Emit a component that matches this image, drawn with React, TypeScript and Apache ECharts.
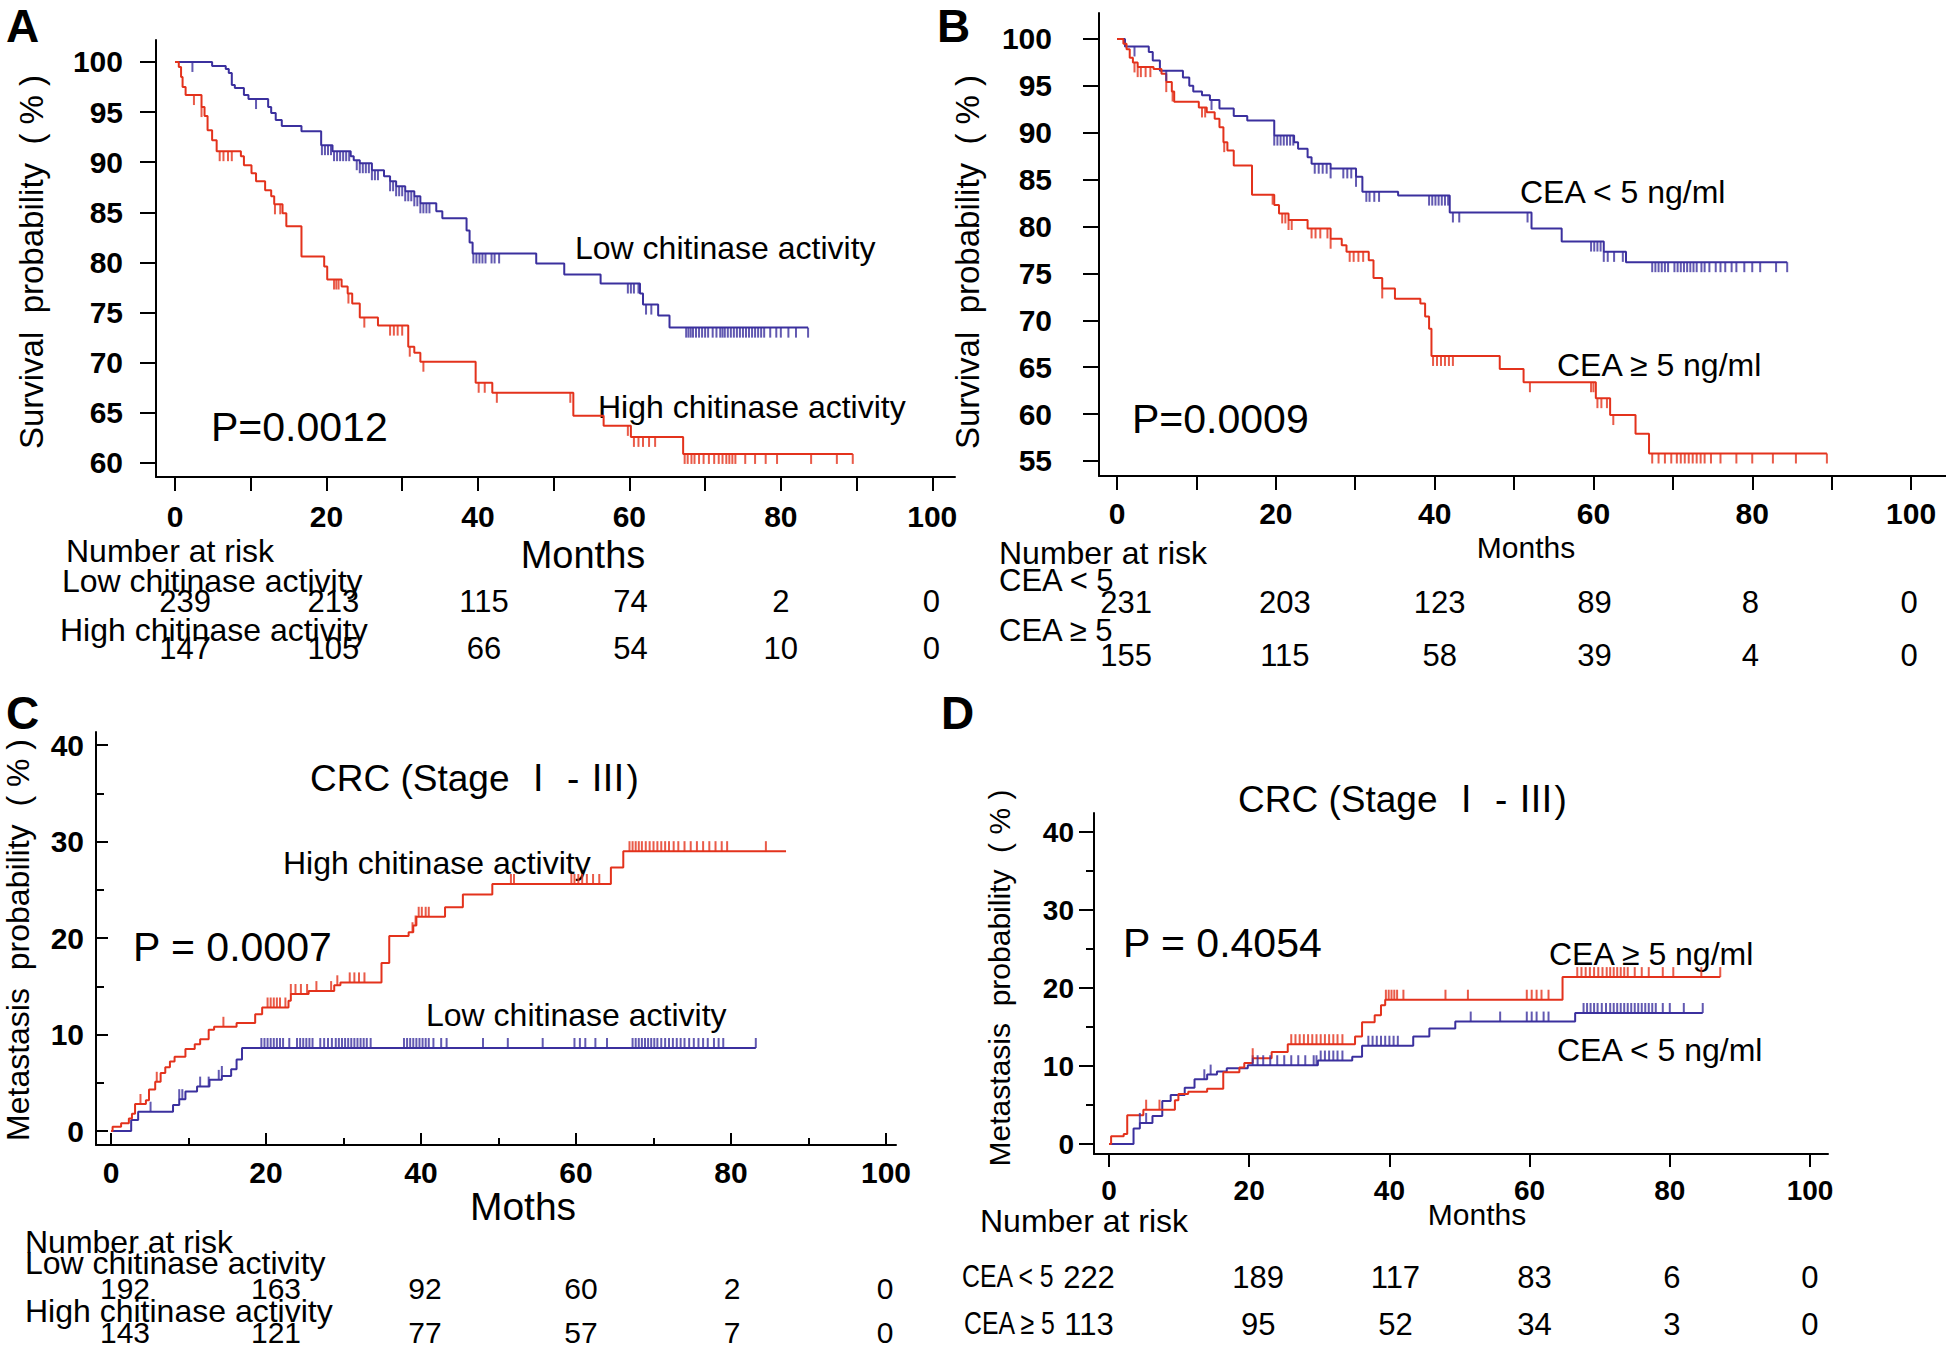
import React, { useEffect, useRef } from "react";
import * as echarts from "echarts";

// ---------------- DATA ----------------
// Panel A: overall survival by chitinase activity  [month, survival %]
const aLowCurve: number[][] = [[0,100],[4.9,99.6],[6.7,99.3],[7.1,98.9],[7.5,97.7],[7.9,97.4],[9.1,96.7],[9.7,96.3],[12.3,95.5],[12.7,94.9],[13.3,94.2],[14.1,93.6],[16.7,93.1],[19.3,91.7],[20.8,91.1],[23.2,90.6],[23.6,90.2],[24.4,89.9],[26.0,89.2],[27.6,88.6],[28.4,88.1],[29.2,87.6],[30.4,87.1],[31.6,86.6],[32.4,85.9],[34.5,85.1],[35.3,84.4],[38.5,83.2],[38.9,82.0],[39.3,80.9],[47.7,79.9],[51.4,78.8],[56.2,77.9],[61.4,76.9],[61.8,75.8],[63.8,74.7],[65.3,73.5],[83.6,73.5]];
const aLowCensor: number[] = [2.3,10.7,19.4,19.8,20.2,20.6,21.0,21.4,21.8,22.2,22.6,23.0,24.0,24.4,24.8,25.2,25.6,26.0,26.4,26.8,28.4,28.8,29.2,29.6,30.0,30.4,30.8,31.2,31.6,32.0,32.4,32.8,33.2,33.6,39.4,39.8,40.2,40.6,41.0,41.8,42.2,42.8,59.8,60.2,60.6,61.2,62.2,62.9,67.5,67.8,68.1,68.4,68.8,69.2,69.6,70.0,70.4,71.0,71.5,72.0,72.3,72.6,73.0,73.4,73.8,74.2,74.6,75.0,75.4,75.8,76.2,76.6,77.0,77.4,77.8,78.6,79.4,80.0,81.0,82.0,83.6];
const aHighCurve: number[][] = [[0,100],[0.5,99.5],[0.8,98.5],[1.0,97.5],[1.4,96.7],[3.5,95.5],[3.9,94.6],[4.3,93.2],[4.9,92.2],[5.5,91.1],[8.7,90.6],[9.1,89.7],[10.1,88.9],[10.7,88.1],[11.9,87.2],[12.7,86.6],[13.1,85.8],[14.2,84.9],[14.7,83.6],[16.7,80.6],[19.7,79.6],[20.1,78.3],[22.0,77.6],[22.8,76.9],[23.4,75.9],[24.4,74.5],[26.8,73.7],[30.8,71.6],[31.6,71.0],[32.4,70.1],[39.7,68.0],[41.9,67.0],[52.6,64.7],[56.6,63.7],[60.2,62.6],[67.1,60.9],[89.5,60.9]];
const aHighCensor: number[] = [2.5,3.5,5.9,6.4,7.0,7.5,13.2,13.9,21.0,21.3,21.6,22.9,25.0,28.4,28.9,29.4,30.0,31.0,32.8,40.1,40.9,42.5,52.2,59.8,60.6,61.2,61.8,62.6,63.4,67.3,67.7,68.2,68.6,69.2,69.8,70.5,71.2,71.8,72.3,72.8,73.2,73.6,74.0,75.3,76.6,78.0,79.5,84.0,87.4,89.5];
const aRiskLow = [239, 213, 115, 74, 2, 0];
const aRiskHigh = [147, 105, 66, 54, 10, 0];

// Panel B: overall survival by CEA
const bLowCurve: number[][] = [[0,100],[1.0,99.2],[4.0,98.6],[4.5,97.7],[5.4,96.6],[8.3,95.9],[9.1,95.0],[9.6,94.4],[10.7,94.0],[11.7,93.5],[12.9,92.6],[14.7,91.8],[16.4,91.3],[19.8,89.7],[22.3,89.0],[22.8,88.3],[24.0,87.4],[24.5,86.7],[26.9,86.2],[30.1,85.3],[30.9,83.7],[35.4,83.3],[41.9,81.5],[52.2,79.8],[56.0,78.4],[61.3,77.3],[64.1,76.2],[84.4,76.2]];
const bLowCensor: number[] = [2.2,6.2,11.9,19.8,20.2,20.6,21.0,21.4,21.8,22.2,24.9,25.4,25.9,26.4,26.9,28.5,29.0,29.5,30.1,31.4,31.8,32.4,33.0,39.3,39.7,40.1,40.5,40.9,41.3,41.7,42.3,43.1,51.7,59.7,60.1,60.5,60.9,61.3,61.8,62.6,63.7,67.4,67.8,68.2,68.6,69.0,69.4,70.2,70.6,71.0,71.4,71.8,72.2,72.6,73.0,73.6,74.0,74.6,75.4,76.0,76.6,77.4,78.0,79.0,80.0,81.0,83.0,84.4];
const bHighCurve: number[][] = [[0,100],[0.8,99.5],[1.2,98.9],[1.6,98.0],[2.0,97.5],[2.6,97.0],[4.6,96.8],[5.6,96.3],[6.2,95.4],[6.9,94.4],[7.2,93.3],[10.3,92.7],[11.3,92.2],[12.3,91.5],[12.9,90.6],[13.4,89.0],[13.9,88.1],[14.7,86.5],[17.0,83.4],[19.8,82.3],[20.4,81.4],[21.6,80.7],[24.0,79.8],[26.9,78.7],[28.3,78.0],[28.9,77.3],[31.7,76.4],[32.3,74.5],[33.4,73.4],[35.0,72.3],[38.2,71.8],[38.8,70.4],[39.3,69.1],[39.6,66.2],[48.2,64.8],[51.2,63.4],[60.3,61.7],[62.1,59.9],[65.3,57.9],[67.0,55.8],[89.4,55.8]];
const bHighCensor: number[] = [2.2,2.6,3.0,3.6,4.2,6.2,7.0,10.7,11.1,13.5,19.6,20.8,21.2,21.6,22.0,24.5,25.0,25.6,26.5,26.9,29.3,29.8,30.4,31.0,33.4,39.8,40.3,40.8,41.3,41.8,42.3,52.0,59.7,60.0,60.5,61.0,61.7,62.5,67.4,68.2,69.0,69.8,70.5,71.0,71.5,72.0,72.5,73.0,73.5,74.0,74.8,76.0,78.0,80.0,82.6,85.5,89.4];
const bRiskLow = [231, 203, 123, 89, 8, 0];
const bRiskHigh = [155, 115, 58, 39, 4, 0];

// Panel C: metastasis by chitinase activity  [month, metastasis %]
const cHighCurve: number[][] = [[0,0],[0.2,0.45],[1.3,0.8],[2.3,1.3],[2.7,1.8],[3.1,2.8],[4.5,3.2],[4.9,4.3],[5.7,5.1],[6.4,6.0],[7.0,6.6],[7.6,7.2],[8.2,7.7],[9.6,8.5],[10.8,9.0],[11.5,9.5],[12.6,10.5],[13.3,10.8],[16.2,11.2],[18.6,12.1],[19.5,12.8],[22.9,13.5],[23.2,14.2],[25.5,14.5],[28.8,15.1],[29.6,15.4],[34.9,17.4],[35.9,20.2],[38.4,20.6],[39.0,21.3],[39.4,22.2],[43.1,23.2],[45.4,24.5],[49.2,25.6],[64.5,27.3],[66.1,29.0],[87.1,29.0]];
const cHighCensor: number[] = [3.8,5.9,14.5,20.2,20.6,21.0,21.4,21.8,22.5,23.2,23.8,24.5,25.3,26.5,28.4,29.2,30.8,31.4,32.0,32.7,38.9,39.3,39.7,40.1,40.6,41.0,51.6,52.0,59.4,59.8,60.3,60.8,61.4,62.2,63.0,66.9,67.3,67.7,68.1,68.5,69.0,69.5,70.0,70.5,71.0,71.5,72.0,72.6,73.2,74.0,74.8,75.6,76.4,77.2,78.0,78.8,79.5,84.5];
const cLowCurve: number[][] = [[0,0],[2.6,1.15],[3.5,2.0],[8.0,2.7],[8.8,3.3],[9.6,4.1],[11.1,4.6],[12.7,5.3],[14.3,5.7],[15.5,6.4],[16.2,7.4],[16.9,8.6],[83.2,8.6]];
const cLowCensor: number[] = [5.1,8.8,9.2,11.5,12.6,13.9,14.3,19.4,19.8,20.2,20.6,21.0,21.4,21.8,22.2,23.0,24.0,24.4,24.8,25.2,25.6,26.0,27.0,27.5,28.0,28.5,29.0,29.4,29.8,30.2,30.6,31.0,31.4,31.8,32.2,32.6,33.0,33.5,37.8,38.2,38.6,39.0,39.4,39.8,40.2,40.6,41.0,41.6,42.6,43.3,48.0,51.2,55.7,59.8,60.5,61.2,62.5,64.0,67.3,67.7,68.1,68.5,68.9,69.3,69.7,70.1,70.5,71.0,71.5,72.0,72.5,73.0,73.5,74.0,74.6,75.2,75.8,76.4,77.0,77.8,78.4,79.0,83.2];
const cRiskLow = [192, 163, 92, 60, 2, 0];
const cRiskHigh = [143, 121, 77, 57, 7, 0];

// Panel D: metastasis by CEA
const dHighCurve: number[][] = [[0,0],[0.3,1.0],[2.1,1.3],[2.6,3.7],[4.9,4.4],[9.4,5.6],[9.9,6.4],[11.3,6.7],[14.0,7.1],[16.3,9.2],[18.6,9.8],[19.3,10.4],[20.5,11.0],[23.2,11.8],[25.5,12.8],[35.1,13.8],[36.1,15.6],[37.9,16.5],[38.8,17.8],[39.4,18.5],[64.7,21.4],[87.2,21.4]];
const dHighCensor: number[] = [5.3,7.2,20.5,26.0,26.6,27.2,27.8,28.4,29.0,29.6,30.2,30.8,31.4,32.0,32.6,33.3,39.5,39.9,40.3,40.7,41.1,42.0,48.0,51.2,59.6,60.3,61.0,61.7,62.7,66.8,67.4,68.0,68.6,69.2,69.8,70.4,71.0,71.5,72.0,72.5,73.0,73.5,74.0,75.0,76.0,77.0,79.0,80.5,84.5,87.2];
const dLowCurve: number[][] = [[0,0],[3.5,2.0],[4.4,2.7],[6.2,3.6],[7.6,5.5],[8.8,6.3],[10.8,7.2],[12.2,8.3],[14.0,8.9],[15.4,9.3],[16.8,9.7],[19.8,10.1],[29.8,10.7],[34.7,11.2],[36.1,12.6],[43.4,13.8],[45.7,14.8],[49.4,15.7],[66.5,16.8],[84.7,16.8]];
const dLowCensor: number[] = [4.4,5.3,13.6,14.5,20.5,21.2,22.0,23.0,24.0,25.0,26.0,27.0,28.0,29.2,29.6,30.2,30.8,31.4,32.0,32.6,33.3,37.0,37.6,38.2,38.8,39.4,40.0,40.6,41.2,51.6,55.8,59.6,60.3,61.0,62.0,62.7,67.7,68.2,68.7,69.2,69.7,70.3,70.9,71.5,72.0,72.5,73.0,73.5,74.0,74.5,75.0,75.5,76.0,76.5,77.0,77.5,78.0,79.0,80.0,82.0,84.7];
const dRiskLow = [222, 189, 117, 83, 6, 0];
const dRiskHigh = [113, 95, 52, 34, 3, 0];

// tick values
const monthLabels = [0, 20, 40, 60, 80, 100];
const monthTicks10 = [0, 10, 20, 30, 40, 50, 60, 70, 80, 90, 100];
const monthMinor = [10, 30, 50, 70, 90];
const survTicksA = [60, 65, 70, 75, 80, 85, 90, 95, 100];
const survTicksB = [55, 60, 65, 70, 75, 80, 85, 90, 95, 100];
const metaLabels = [0, 10, 20, 30, 40];
const metaMinor = [5, 15, 25, 35];

// ---------------- STYLE / LAYOUT ----------------
const BLUE = "#3b309e";
const RED = "#e3321c";
const FF = "'Liberation Sans', Arial, Helvetica, sans-serif";
const TFF = "'Liberation Sans', 'Noto Sans CJK SC', 'DejaVu Serif', sans-serif";

function stepAt(curve: number[][], t: number): number {
  let v = curve[0][1];
  for (const [ct, cv] of curve) {
    if (ct <= t) v = cv;
    else break;
  }
  return v;
}

interface Panel {
  grid: number[];
  x: number[];
  y: number[];
  xTicks: number[];
  xMinor?: number[];
  xInside: boolean;
  xTickLen: number;
  xMinorLen?: number;
  xMargin: number;
  yTicks: number[];
  yLabels: number[];
  yMinor?: number[];
  yInside: boolean;
  yTickLen: number;
  yMinorLen?: number;
  yMargin: number;
  tickFont: number;
  riskFont: number;
  riskShift: number[]; // horizontal nudge (px) of each risk column
  risk: { vals: number[]; offset: number }[];
  curves: { curve: number[][]; censor: number[]; color: string }[];
  censorUp: boolean;
}

const PANELS: Panel[] = [
  {
    grid: [156, 40, 799, 437], x: [-2.51, 103.0], y: [58.6, 102.19],
    xTicks: monthTicks10, xInside: false, xTickLen: 14, xMargin: 39,
    yTicks: survTicksA, yLabels: survTicksA, yInside: false, yTickLen: 16, yMargin: 33,
    tickFont: 30, riskFont: 31, riskShift: [10, 7, 6, 1, 0, -1],
    risk: [{ vals: aRiskLow, offset: 124 }, { vals: aRiskHigh, offset: 171 }],
    curves: [
      { curve: aLowCurve, censor: aLowCensor, color: BLUE },
      { curve: aHighCurve, censor: aHighCensor, color: RED },
    ],
    censorUp: false,
  },
  {
    grid: [1099, 13, 847, 463], x: [-2.27, 104.4], y: [53.4, 102.77],
    xTicks: monthTicks10, xInside: false, xTickLen: 14, xMargin: 37,
    yTicks: survTicksB, yLabels: survTicksB, yInside: false, yTickLen: 16, yMargin: 47,
    tickFont: 30, riskFont: 31, riskShift: [9, 9, 5, 1, -2, -2],
    risk: [{ vals: bRiskLow, offset: 126 }, { vals: bRiskHigh, offset: 179 }],
    curves: [
      { curve: bLowCurve, censor: bLowCensor, color: BLUE },
      { curve: bHighCurve, censor: bHighCensor, color: RED },
    ],
    censorUp: false,
  },
  {
    grid: [96, 732, 800, 413], x: [-1.94, 101.29], y: [-1.45, 41.35],
    xTicks: monthLabels, xMinor: monthMinor, xInside: true, xTickLen: 12, xMinorLen: 7, xMargin: 27,
    yTicks: metaLabels, yLabels: metaLabels, yMinor: metaMinor, yInside: true, yTickLen: 12, yMinorLen: 8, yMargin: 12,
    tickFont: 30, riskFont: 30, riskShift: [14, 10, 4, 5, 1, -1],
    risk: [{ vals: cRiskLow, offset: 143 }, { vals: cRiskHigh, offset: 187 }],
    curves: [
      { curve: cLowCurve, censor: cLowCensor, color: BLUE },
      { curve: cHighCurve, censor: cHighCensor, color: RED },
    ],
    censorUp: true,
  },
  {
    grid: [1094, 813, 734, 341], x: [-2.14, 102.57], y: [-1.28, 42.44],
    xTicks: monthLabels, xInside: false, xTickLen: 13, xMargin: 36,
    yTicks: metaLabels, yLabels: metaLabels, yMinor: metaMinor, yInside: false, yTickLen: 15, yMinorLen: 8, yMargin: 20,
    tickFont: 28, riskFont: 31, riskShift: [-20, 9, 6, 5, 2, 0],
    risk: [{ vals: dRiskLow, offset: 123 }, { vals: dRiskHigh, offset: 170 }],
    curves: [
      { curve: dLowCurve, censor: dLowCensor, color: BLUE },
      { curve: dHighCurve, censor: dHighCensor, color: RED },
    ],
    censorUp: true,
  },
];

type T = { t: string; x: number; y: number; size: number; bold?: boolean; align?: string; rot?: boolean; ff?: string; sx?: number };
const TEXTS: T[] = [
  { t: "A", x: 6, y: 26, size: 46, bold: true },
  { t: "B", x: 937, y: 26, size: 46, bold: true },
  { t: "C", x: 6, y: 713, size: 46, bold: true },
  { t: "D", x: 941, y: 713, size: 46, bold: true },
  // A
  { t: "Survival  probability  ( % )", x: 31, y: 262, size: 33, align: "center", rot: true },
  { t: "Low chitinase activity", x: 575, y: 248, size: 32 },
  { t: "High chitinase activity", x: 598, y: 407, size: 32 },
  { t: "P=0.0012", x: 211, y: 427, size: 41 },
  { t: "Months", x: 583, y: 555, size: 38, align: "center" },
  { t: "Number at risk", x: 66, y: 551, size: 32 },
  { t: "Low chitinase activity", x: 62, y: 581, size: 32 },
  { t: "High chitinase activity", x: 60, y: 630, size: 32 },
  // B
  { t: "Survival  probability  ( % )", x: 967, y: 262, size: 33, align: "center", rot: true },
  { t: "CEA < 5 ng/ml", x: 1520, y: 192, size: 32 },
  { t: "CEA \u2265 5 ng/ml", x: 1557, y: 365, size: 32 },
  { t: "P=0.0009", x: 1132, y: 419, size: 41 },
  { t: "Months", x: 1526, y: 547, size: 30, align: "center" },
  { t: "Number at risk", x: 999, y: 553, size: 32 },
  { t: "CEA < 5", x: 999, y: 580, size: 31 },
  { t: "CEA \u2265 5", x: 999, y: 630, size: 31 },
  // C
  { t: "Metastasis  probability  ( % )", x: 18, y: 940, size: 32, align: "center", rot: true },
  { t: "CRC (Stage \u2160 - \u2162)", x: 310, y: 778, size: 37, ff: TFF },
  { t: "High chitinase activity", x: 283, y: 863, size: 32 },
  { t: "Low chitinase activity", x: 426, y: 1015, size: 32 },
  { t: "P = 0.0007", x: 133, y: 947, size: 41 },
  { t: "Moths", x: 523, y: 1206, size: 39, align: "center" },
  { t: "Number at risk", x: 25, y: 1242, size: 32 },
  { t: "Low chitinase activity", x: 25, y: 1263, size: 32 },
  { t: "High chitinase activity", x: 25, y: 1311, size: 32 },
  // D
  { t: "Metastasis  probability  ( % )", x: 999, y: 978, size: 30, align: "center", rot: true },
  { t: "CRC (Stage \u2160 - \u2162)", x: 1238, y: 799, size: 37, ff: TFF },
  { t: "P = 0.4054", x: 1123, y: 943, size: 41 },
  { t: "CEA \u2265 5 ng/ml", x: 1549, y: 954, size: 32 },
  { t: "CEA < 5 ng/ml", x: 1557, y: 1050, size: 32 },
  { t: "Number at risk", x: 980, y: 1221, size: 32 },
  { t: "Months", x: 1477, y: 1214, size: 30, align: "center" },
  { t: "CEA < 5", x: 962, y: 1277, size: 31, sx: 0.8 },
  { t: "CEA \u2265 5", x: 964, y: 1324, size: 31, sx: 0.8 },
];

function buildOption(): any {
  const grid: any[] = [];
  const xAxis: any[] = [];
  const yAxis: any[] = [];
  const series: any[] = [];
  const black = { color: "#000", width: 2 };

  PANELS.forEach((p, gi) => {
    grid.push({ left: p.grid[0], top: p.grid[1], width: p.grid[2], height: p.grid[3] });
    const xi = xAxis.length;
    xAxis.push({
      type: "value", gridIndex: gi, min: p.x[0], max: p.x[1], position: "bottom",
      axisLine: { show: true, onZero: false, lineStyle: black },
      axisTick: { show: true, inside: p.xInside, length: p.xTickLen, customValues: p.xTicks, lineStyle: black },
      axisLabel: {
        show: true, customValues: monthLabels, margin: p.xMargin, fontSize: p.tickFont, fontWeight: "bold",
        fontFamily: FF, color: "#000", verticalAlign: "middle",
      },
      splitLine: { show: false },
    });
    if (p.xMinor) {
      xAxis.push({
        type: "value", gridIndex: gi, min: p.x[0], max: p.x[1], position: "bottom",
        axisLine: { show: false, onZero: false },
        axisTick: { show: true, inside: p.xInside, length: p.xMinorLen, customValues: p.xMinor, lineStyle: black },
        axisLabel: { show: false }, splitLine: { show: false },
      });
    }
    const rich: any = {};
    p.riskShift.forEach((d, i) => {
      rich["s" + i] = {
        fontSize: p.riskFont, fontFamily: FF, color: "#000",
        padding: d >= 0 ? [0, 0, 0, 2 * d] : [0, -2 * d, 0, 0],
      };
    });
    p.risk.forEach((r) => {
      xAxis.push({
        type: "value", gridIndex: gi, min: p.x[0], max: p.x[1], position: "bottom", offset: r.offset,
        axisLine: { show: false, onZero: false }, axisTick: { show: false },
        axisLabel: {
          show: true, customValues: monthLabels, margin: 0, fontSize: p.riskFont, fontFamily: FF, color: "#000",
          verticalAlign: "middle", rich,
          formatter: (v: number) => {
            const i = Math.round(v / 20);
            return "{s" + i + "|" + r.vals[i] + "}";
          },
        },
        splitLine: { show: false },
      });
    });
    const yi = yAxis.length;
    yAxis.push({
      type: "value", gridIndex: gi, min: p.y[0], max: p.y[1], position: "left",
      axisLine: { show: true, onZero: false, lineStyle: black },
      axisTick: { show: true, inside: p.yInside, length: p.yTickLen, customValues: p.yTicks, lineStyle: black },
      axisLabel: {
        show: true, customValues: p.yLabels, margin: p.yMargin, fontSize: p.tickFont, fontWeight: "bold",
        fontFamily: FF, color: "#000",
      },
      splitLine: { show: false },
    });
    if (p.yMinor) {
      yAxis.push({
        type: "value", gridIndex: gi, min: p.y[0], max: p.y[1], position: "left",
        axisLine: { show: false, onZero: false },
        axisTick: { show: true, inside: p.yInside, length: p.yMinorLen, customValues: p.yMinor, lineStyle: black },
        axisLabel: { show: false }, splitLine: { show: false },
      });
    }
    p.curves.forEach((c) => {
      series.push({
        type: "line", xAxisIndex: xi, yAxisIndex: yi, step: "end", showSymbol: false, symbol: "none",
        data: c.curve, lineStyle: { color: c.color, width: 2 }, z: 3, silent: true,
      });
      const h = 10;
      series.push({
        type: "scatter", xAxisIndex: xi, yAxisIndex: yi, symbol: "rect", symbolSize: [2, h],
        symbolOffset: [0, p.censorUp ? -h / 2 : h / 2],
        data: c.censor.map((t) => [t, stepAt(c.curve, t)]),
        itemStyle: { color: c.color }, z: 4, silent: true,
      });
    });
  });

  const graphic = TEXTS.map((g) => ({
    type: "text", x: g.x, y: g.y, rotation: g.rot ? Math.PI / 2 : 0, scaleX: g.sx || 1, silent: true,
    style: {
      text: g.t, fill: "#000", fontSize: g.size, fontWeight: g.bold ? "bold" : "normal",
      fontFamily: g.ff || FF, align: g.align || "left", verticalAlign: "middle",
    },
  }));

  return { animation: false, backgroundColor: "#fff", grid, xAxis, yAxis, series, graphic };
}

export default function App() {
  const ref = useRef<HTMLDivElement>(null);
  useEffect(() => {
    if (!ref.current) return;
    const chart = echarts.init(ref.current, undefined, { renderer: "svg" });
    chart.setOption(buildOption());
    return () => chart.dispose();
  }, []);
  return (
    <div
      ref={ref}
      style={{ position: "absolute", left: 0, top: 0, width: 1946, height: 1348, background: "#fff" }}
    />
  );
}
